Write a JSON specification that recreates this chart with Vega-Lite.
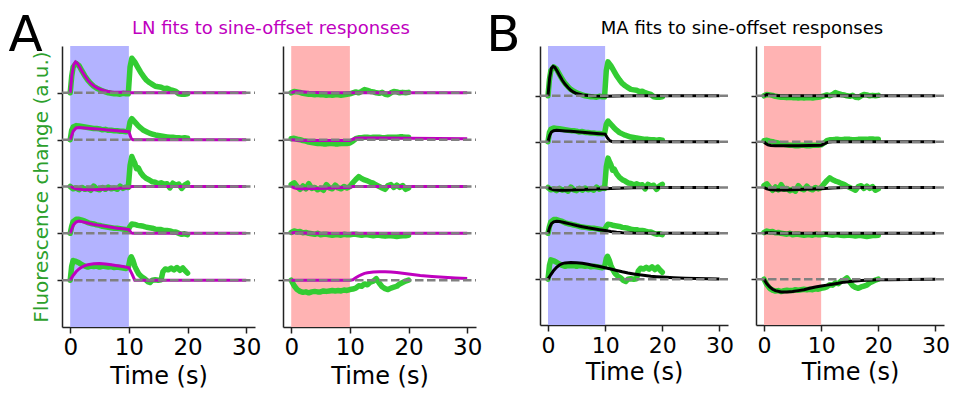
{
"$schema":"https://vega.github.io/schema/vega-lite/v6.json",
"background":"white",
"padding":{"left":8,"top":10,"right":4,"bottom":4},
"config":{"view":{"stroke":null},"font":"DejaVu Sans","axis":{"grid":false,"domainColor":"#222","tickColor":"#222","domainWidth":1.5,"tickWidth":1.5,"labelColor":"black","titleColor":"black","titleFontWeight":"normal"}},
"bounds":"flush",
"spacing":28,
"datasets":{
"base":[{"b":1},{"b":2},{"b":3},{"b":4},{"b":5}],
"gL":[
{"k":5,"t":0,"y":5},{"k":5,"t":0.25,"y":5.35},{"k":5,"t":0.5,"y":5.55},{"k":5,"t":1,"y":5.63},{"k":5,"t":1.5,"y":5.58},{"k":5,"t":2,"y":5.47},{"k":5,"t":2.5,"y":5.36},{"k":5,"t":3,"y":5.27},{"k":5,"t":3.5,"y":5.2},{"k":5,"t":4,"y":5.14},{"k":5,"t":4.5,"y":5.1},{"k":5,"t":5,"y":5.07},{"k":5,"t":5.5,"y":5.04},{"k":5,"t":6,"y":5.02},{"k":5,"t":6.5,"y":5.0},{"k":5,"t":7,"y":4.99},{"k":5,"t":7.5,"y":4.98},{"k":5,"t":8,"y":4.98},{"k":5,"t":8.5,"y":4.97},{"k":5,"t":9,"y":4.99},{"k":5,"t":9.5,"y":4.98},{"k":5,"t":9.9,"y":4.98},{"k":5,"t":10.2,"y":5.55},{"k":5,"t":10.5,"y":5.74},{"k":5,"t":11,"y":5.66},{"k":5,"t":11.5,"y":5.55},{"k":5,"t":12,"y":5.44},{"k":5,"t":12.5,"y":5.35},{"k":5,"t":13,"y":5.27},{"k":5,"t":13.5,"y":5.22},{"k":5,"t":14,"y":5.18},{"k":5,"t":14.5,"y":5.14},{"k":5,"t":15,"y":5.13},{"k":5,"t":15.5,"y":5.12},{"k":5,"t":16,"y":5.09},{"k":5,"t":16.5,"y":5.1},{"k":5,"t":17,"y":5.07},{"k":5,"t":17.5,"y":5.05},{"k":5,"t":18,"y":5.03},{"k":5,"t":18.5,"y":4.98},{"k":5,"t":19,"y":4.97},{"k":5,"t":19.5,"y":4.97},{"k":5,"t":20,"y":4.98},
{"k":4,"t":0,"y":4},{"k":4,"t":0.25,"y":4.2},{"k":4,"t":0.5,"y":4.27},{"k":4,"t":1,"y":4.3},{"k":4,"t":1.5,"y":4.29},{"k":4,"t":2,"y":4.28},{"k":4,"t":2.5,"y":4.27},{"k":4,"t":3,"y":4.26},{"k":4,"t":3.5,"y":4.25},{"k":4,"t":4,"y":4.24},{"k":4,"t":4.5,"y":4.24},{"k":4,"t":5,"y":4.23},{"k":4,"t":5.5,"y":4.21},{"k":4,"t":6,"y":4.22},{"k":4,"t":6.5,"y":4.2},{"k":4,"t":7,"y":4.2},{"k":4,"t":7.5,"y":4.19},{"k":4,"t":8,"y":4.19},{"k":4,"t":8.5,"y":4.18},{"k":4,"t":9,"y":4.18},{"k":4,"t":9.5,"y":4.17},{"k":4,"t":9.9,"y":4.18},{"k":4,"t":10.2,"y":4.38},{"k":4,"t":10.5,"y":4.45},{"k":4,"t":11,"y":4.38},{"k":4,"t":11.5,"y":4.31},{"k":4,"t":12,"y":4.25},{"k":4,"t":12.5,"y":4.2},{"k":4,"t":13,"y":4.17},{"k":4,"t":13.5,"y":4.14},{"k":4,"t":14,"y":4.12},{"k":4,"t":14.5,"y":4.1},{"k":4,"t":15,"y":4.09},{"k":4,"t":15.5,"y":4.08},{"k":4,"t":16,"y":4.07},{"k":4,"t":16.5,"y":4.06},{"k":4,"t":17,"y":4.05},{"k":4,"t":17.5,"y":4.05},{"k":4,"t":18,"y":4.04},{"k":4,"t":18.5,"y":4.04},{"k":4,"t":19,"y":4.03},{"k":4,"t":19.5,"y":4.04},{"k":4,"t":20,"y":4.03},
{"k":3,"t":0,"y":3.0},{"k":3,"t":0.5,"y":2.95},{"k":3,"t":1,"y":2.97},{"k":3,"t":1.5,"y":2.93},{"k":3,"t":2,"y":2.98},{"k":3,"t":2.5,"y":2.94},{"k":3,"t":3,"y":2.96},{"k":3,"t":3.5,"y":2.92},{"k":3,"t":4,"y":3.01},{"k":3,"t":4.5,"y":2.95},{"k":3,"t":5,"y":2.93},{"k":3,"t":5.5,"y":2.98},{"k":3,"t":6,"y":2.94},{"k":3,"t":6.5,"y":2.99},{"k":3,"t":7,"y":2.95},{"k":3,"t":7.5,"y":2.97},{"k":3,"t":8,"y":2.94},{"k":3,"t":8.5,"y":3.01},{"k":3,"t":9,"y":2.96},{"k":3,"t":9.5,"y":2.99},{"k":3,"t":9.9,"y":2.98},{"k":3,"t":10.2,"y":3.45},{"k":3,"t":10.5,"y":3.64},{"k":3,"t":10.8,"y":3.55},{"k":3,"t":11,"y":3.5},{"k":3,"t":11.3,"y":3.38},{"k":3,"t":11.6,"y":3.4},{"k":3,"t":12,"y":3.3},{"k":3,"t":12.5,"y":3.22},{"k":3,"t":13,"y":3.17},{"k":3,"t":13.5,"y":3.14},{"k":3,"t":14,"y":3.1},{"k":3,"t":14.5,"y":3.09},{"k":3,"t":15,"y":3.06},{"k":3,"t":15.5,"y":3.08},{"k":3,"t":16,"y":3.05},{"k":3,"t":16.5,"y":3.06},{"k":3,"t":17,"y":2.97},{"k":3,"t":17.5,"y":3.07},{"k":3,"t":18,"y":3.03},{"k":3,"t":18.5,"y":3.05},{"k":3,"t":19,"y":2.96},{"k":3,"t":19.5,"y":3.03},{"k":3,"t":20,"y":3.07},
{"k":2,"t":0,"y":2},{"k":2,"t":0.25,"y":2.15},{"k":2,"t":0.5,"y":2.25},{"k":2,"t":1,"y":2.3},{"k":2,"t":1.5,"y":2.3},{"k":2,"t":2,"y":2.28},{"k":2,"t":2.5,"y":2.26},{"k":2,"t":3,"y":2.23},{"k":2,"t":3.5,"y":2.21},{"k":2,"t":4,"y":2.2},{"k":2,"t":4.5,"y":2.18},{"k":2,"t":5,"y":2.17},{"k":2,"t":5.5,"y":2.15},{"k":2,"t":6,"y":2.14},{"k":2,"t":6.5,"y":2.13},{"k":2,"t":7,"y":2.12},{"k":2,"t":7.5,"y":2.11},{"k":2,"t":8,"y":2.11},{"k":2,"t":8.5,"y":2.1},{"k":2,"t":9,"y":2.09},{"k":2,"t":9.5,"y":2.08},{"k":2,"t":9.9,"y":2.08},{"k":2,"t":10.2,"y":2.15},{"k":2,"t":10.5,"y":2.2},{"k":2,"t":11,"y":2.19},{"k":2,"t":11.5,"y":2.17},{"k":2,"t":12,"y":2.16},{"k":2,"t":12.5,"y":2.15},{"k":2,"t":13,"y":2.13},{"k":2,"t":13.5,"y":2.12},{"k":2,"t":14,"y":2.11},{"k":2,"t":14.5,"y":2.09},{"k":2,"t":15,"y":2.08},{"k":2,"t":15.5,"y":2.08},{"k":2,"t":16,"y":2.06},{"k":2,"t":16.5,"y":2.06},{"k":2,"t":17,"y":2.05},{"k":2,"t":17.5,"y":2.03},{"k":2,"t":18,"y":2.03},{"k":2,"t":18.5,"y":2.0},{"k":2,"t":19,"y":1.98},{"k":2,"t":19.5,"y":1.99},{"k":2,"t":20,"y":1.97},
{"k":1,"t":0,"y":1},{"k":1,"t":0.25,"y":1.3},{"k":1,"t":0.5,"y":1.42},{"k":1,"t":1,"y":1.4},{"k":1,"t":1.5,"y":1.37},{"k":1,"t":2,"y":1.33},{"k":1,"t":2.5,"y":1.3},{"k":1,"t":3,"y":1.28},{"k":1,"t":3.5,"y":1.3},{"k":1,"t":4,"y":1.29},{"k":1,"t":4.5,"y":1.3},{"k":1,"t":5,"y":1.28},{"k":1,"t":5.5,"y":1.3},{"k":1,"t":6,"y":1.29},{"k":1,"t":6.5,"y":1.28},{"k":1,"t":7,"y":1.29},{"k":1,"t":7.5,"y":1.27},{"k":1,"t":8,"y":1.28},{"k":1,"t":8.5,"y":1.27},{"k":1,"t":9,"y":1.26},{"k":1,"t":9.5,"y":1.25},{"k":1,"t":9.9,"y":1.27},{"k":1,"t":10.2,"y":1.45},{"k":1,"t":10.4,"y":1.5},{"k":1,"t":10.7,"y":1.42},{"k":1,"t":11,"y":1.3},{"k":1,"t":11.3,"y":1.22},{"k":1,"t":11.7,"y":1.13},{"k":1,"t":12.2,"y":1.07},{"k":1,"t":12.7,"y":1.03},{"k":1,"t":13.2,"y":0.97},{"k":1,"t":13.6,"y":0.95},{"k":1,"t":14,"y":1.0},{"k":1,"t":14.5,"y":1.01},{"k":1,"t":15,"y":1.0},{"k":1,"t":15.5,"y":1.01},{"k":1,"t":15.8,"y":1.18},{"k":1,"t":16.2,"y":1.24},{"k":1,"t":16.7,"y":1.22},{"k":1,"t":17.2,"y":1.26},{"k":1,"t":17.7,"y":1.22},{"k":1,"t":18.2,"y":1.27},{"k":1,"t":18.7,"y":1.21},{"k":1,"t":19.2,"y":1.26},{"k":1,"t":19.6,"y":1.2},{"k":1,"t":20,"y":1.15}
],
"gR":[
{"k":5,"t":0,"y":5},{"k":5,"t":0.5,"y":5.03},{"k":5,"t":1,"y":5.02},{"k":5,"t":1.5,"y":5.01},{"k":5,"t":2,"y":4.99},{"k":5,"t":2.5,"y":4.98},{"k":5,"t":3,"y":4.97},{"k":5,"t":3.5,"y":4.97},{"k":5,"t":4,"y":4.96},{"k":5,"t":4.5,"y":4.97},{"k":5,"t":5,"y":4.96},{"k":5,"t":5.5,"y":4.96},{"k":5,"t":6,"y":4.95},{"k":5,"t":6.5,"y":4.96},{"k":5,"t":7,"y":4.95},{"k":5,"t":7.5,"y":4.96},{"k":5,"t":8,"y":4.96},{"k":5,"t":8.5,"y":4.95},{"k":5,"t":9,"y":4.96},{"k":5,"t":9.5,"y":4.97},{"k":5,"t":10,"y":4.98},{"k":5,"t":10.5,"y":5.0},{"k":5,"t":11,"y":5.02},{"k":5,"t":11.5,"y":5.0},{"k":5,"t":12,"y":5.03},{"k":5,"t":12.5,"y":5.07},{"k":5,"t":13,"y":5.05},{"k":5,"t":13.5,"y":5.03},{"k":5,"t":14,"y":5.02},{"k":5,"t":14.5,"y":5.0},{"k":5,"t":15,"y":4.99},{"k":5,"t":15.5,"y":5.01},{"k":5,"t":16,"y":4.97},{"k":5,"t":16.5,"y":4.96},{"k":5,"t":17,"y":5.0},{"k":5,"t":17.5,"y":5.03},{"k":5,"t":18,"y":5.02},{"k":5,"t":18.5,"y":5.0},{"k":5,"t":19,"y":5.01},{"k":5,"t":19.5,"y":5.0},{"k":5,"t":20,"y":5.01},
{"k":4,"t":0,"y":4.02},{"k":4,"t":0.5,"y":4.03},{"k":4,"t":1,"y":4.01},{"k":4,"t":1.5,"y":4.0},{"k":4,"t":2,"y":3.98},{"k":4,"t":2.5,"y":3.97},{"k":4,"t":3,"y":3.95},{"k":4,"t":3.5,"y":3.94},{"k":4,"t":4,"y":3.93},{"k":4,"t":4.5,"y":3.92},{"k":4,"t":5,"y":3.92},{"k":4,"t":5.5,"y":3.91},{"k":4,"t":6,"y":3.91},{"k":4,"t":6.5,"y":3.92},{"k":4,"t":7,"y":3.92},{"k":4,"t":7.5,"y":3.91},{"k":4,"t":8,"y":3.91},{"k":4,"t":8.5,"y":3.92},{"k":4,"t":9,"y":3.92},{"k":4,"t":9.5,"y":3.92},{"k":4,"t":10,"y":3.93},{"k":4,"t":10.5,"y":3.97},{"k":4,"t":11,"y":4.02},{"k":4,"t":11.5,"y":4.04},{"k":4,"t":12,"y":4.04},{"k":4,"t":12.5,"y":4.05},{"k":4,"t":13,"y":4.05},{"k":4,"t":13.5,"y":4.04},{"k":4,"t":14,"y":4.05},{"k":4,"t":14.5,"y":4.05},{"k":4,"t":15,"y":4.05},{"k":4,"t":15.5,"y":4.04},{"k":4,"t":16,"y":4.04},{"k":4,"t":16.5,"y":4.05},{"k":4,"t":17,"y":4.05},{"k":4,"t":17.5,"y":4.05},{"k":4,"t":18,"y":4.05},{"k":4,"t":18.5,"y":4.06},{"k":4,"t":19,"y":4.06},{"k":4,"t":19.5,"y":4.05},{"k":4,"t":20,"y":4.05},
{"k":3,"t":0,"y":3.04},{"k":3,"t":0.5,"y":3.08},{"k":3,"t":1,"y":3.0},{"k":3,"t":1.5,"y":2.94},{"k":3,"t":2,"y":3.01},{"k":3,"t":2.5,"y":2.95},{"k":3,"t":3,"y":3.06},{"k":3,"t":3.5,"y":2.96},{"k":3,"t":4,"y":2.98},{"k":3,"t":4.5,"y":2.93},{"k":3,"t":5,"y":2.96},{"k":3,"t":5.5,"y":2.92},{"k":3,"t":6,"y":3.04},{"k":3,"t":6.5,"y":2.97},{"k":3,"t":7,"y":2.95},{"k":3,"t":7.5,"y":3.03},{"k":3,"t":8,"y":2.97},{"k":3,"t":8.5,"y":2.95},{"k":3,"t":9,"y":3.0},{"k":3,"t":9.5,"y":2.97},{"k":3,"t":10,"y":3.0},{"k":3,"t":10.5,"y":3.08},{"k":3,"t":11,"y":3.15},{"k":3,"t":11.5,"y":3.21},{"k":3,"t":12,"y":3.17},{"k":3,"t":12.5,"y":3.14},{"k":3,"t":13,"y":3.12},{"k":3,"t":13.5,"y":3.09},{"k":3,"t":14,"y":3.07},{"k":3,"t":14.5,"y":3.03},{"k":3,"t":15,"y":3.0},{"k":3,"t":15.5,"y":2.97},{"k":3,"t":16,"y":2.94},{"k":3,"t":16.5,"y":3.02},{"k":3,"t":17,"y":3.04},{"k":3,"t":17.5,"y":2.98},{"k":3,"t":18,"y":3.03},{"k":3,"t":18.5,"y":2.98},{"k":3,"t":19,"y":3.02},{"k":3,"t":19.5,"y":2.94},{"k":3,"t":20,"y":2.97},
{"k":2,"t":0,"y":2.02},{"k":2,"t":0.5,"y":2.05},{"k":2,"t":1,"y":2.03},{"k":2,"t":1.5,"y":2.04},{"k":2,"t":2,"y":2.01},{"k":2,"t":2.5,"y":2.02},{"k":2,"t":3,"y":2.0},{"k":2,"t":3.5,"y":1.99},{"k":2,"t":4,"y":1.98},{"k":2,"t":4.5,"y":2.0},{"k":2,"t":5,"y":1.97},{"k":2,"t":5.5,"y":1.98},{"k":2,"t":6,"y":1.98},{"k":2,"t":6.5,"y":1.97},{"k":2,"t":7,"y":1.96},{"k":2,"t":7.5,"y":1.97},{"k":2,"t":8,"y":1.97},{"k":2,"t":8.5,"y":1.96},{"k":2,"t":9,"y":1.98},{"k":2,"t":9.5,"y":1.97},{"k":2,"t":10,"y":1.97},{"k":2,"t":10.5,"y":1.98},{"k":2,"t":11,"y":1.98},{"k":2,"t":11.5,"y":1.97},{"k":2,"t":12,"y":1.96},{"k":2,"t":12.5,"y":1.97},{"k":2,"t":13,"y":1.97},{"k":2,"t":13.5,"y":1.96},{"k":2,"t":14,"y":1.95},{"k":2,"t":14.5,"y":1.96},{"k":2,"t":15,"y":1.96},{"k":2,"t":15.5,"y":1.95},{"k":2,"t":16,"y":1.94},{"k":2,"t":16.5,"y":1.95},{"k":2,"t":17,"y":1.95},{"k":2,"t":17.5,"y":1.94},{"k":2,"t":18,"y":1.93},{"k":2,"t":18.5,"y":1.94},{"k":2,"t":19,"y":1.95},{"k":2,"t":19.5,"y":1.95},{"k":2,"t":20,"y":1.96},
{"k":1,"t":0,"y":1.0},{"k":1,"t":0.5,"y":0.88},{"k":1,"t":1,"y":0.8},{"k":1,"t":1.5,"y":0.76},{"k":1,"t":2,"y":0.74},{"k":1,"t":2.5,"y":0.75},{"k":1,"t":3,"y":0.73},{"k":1,"t":3.5,"y":0.75},{"k":1,"t":4,"y":0.76},{"k":1,"t":4.5,"y":0.75},{"k":1,"t":5,"y":0.75},{"k":1,"t":5.5,"y":0.77},{"k":1,"t":6,"y":0.76},{"k":1,"t":6.5,"y":0.77},{"k":1,"t":7,"y":0.78},{"k":1,"t":7.5,"y":0.77},{"k":1,"t":8,"y":0.78},{"k":1,"t":8.5,"y":0.77},{"k":1,"t":9,"y":0.79},{"k":1,"t":9.5,"y":0.78},{"k":1,"t":10,"y":0.8},{"k":1,"t":10.5,"y":0.81},{"k":1,"t":11,"y":0.83},{"k":1,"t":11.5,"y":0.88},{"k":1,"t":12,"y":0.87},{"k":1,"t":12.5,"y":0.92},{"k":1,"t":13,"y":0.9},{"k":1,"t":13.5,"y":0.96},{"k":1,"t":14,"y":0.98},{"k":1,"t":14.5,"y":1.03},{"k":1,"t":15,"y":0.94},{"k":1,"t":15.5,"y":0.86},{"k":1,"t":16,"y":0.82},{"k":1,"t":16.5,"y":0.8},{"k":1,"t":17,"y":0.83},{"k":1,"t":17.5,"y":0.85},{"k":1,"t":18,"y":0.87},{"k":1,"t":18.5,"y":0.92},{"k":1,"t":19,"y":0.95},{"k":1,"t":19.5,"y":0.98},{"k":1,"t":20,"y":1.0}
],
"fAL":[
{"k":5,"t":0,"y":5},{"k":5,"t":0.3,"y":5.4},{"k":5,"t":0.6,"y":5.6},{"k":5,"t":0.9,"y":5.66},{"k":5,"t":1.2,"y":5.63},{"k":5,"t":1.6,"y":5.55},{"k":5,"t":2,"y":5.46},{"k":5,"t":2.5,"y":5.36},{"k":5,"t":3,"y":5.27},{"k":5,"t":3.5,"y":5.2},{"k":5,"t":4,"y":5.15},{"k":5,"t":4.5,"y":5.11},{"k":5,"t":5,"y":5.08},{"k":5,"t":6,"y":5.04},{"k":5,"t":7,"y":5.02},{"k":5,"t":8,"y":5.015},{"k":5,"t":10,"y":5.015},{"k":5,"t":10.3,"y":5},{"k":5,"t":30,"y":5},
{"k":4,"t":0,"y":4},{"k":4,"t":0.5,"y":4.18},{"k":4,"t":1,"y":4.25},{"k":4,"t":1.5,"y":4.26},{"k":4,"t":2,"y":4.255},{"k":4,"t":3,"y":4.245},{"k":4,"t":4,"y":4.235},{"k":4,"t":5,"y":4.225},{"k":4,"t":6,"y":4.21},{"k":4,"t":7,"y":4.2},{"k":4,"t":8,"y":4.19},{"k":4,"t":9,"y":4.18},{"k":4,"t":10,"y":4.17},{"k":4,"t":10.4,"y":4.02},{"k":4,"t":10.7,"y":4},{"k":4,"t":30,"y":4},
{"k":3,"t":0,"y":3},{"k":3,"t":0.5,"y":2.97},{"k":3,"t":1,"y":2.95},{"k":3,"t":2,"y":2.935},{"k":3,"t":3,"y":2.93},{"k":3,"t":4,"y":2.93},{"k":3,"t":5,"y":2.935},{"k":3,"t":6,"y":2.94},{"k":3,"t":7,"y":2.95},{"k":3,"t":8,"y":2.96},{"k":3,"t":9,"y":2.97},{"k":3,"t":10,"y":2.98},{"k":3,"t":10.5,"y":3},{"k":3,"t":30,"y":3},
{"k":2,"t":0,"y":2},{"k":2,"t":0.5,"y":2.17},{"k":2,"t":1,"y":2.24},{"k":2,"t":1.5,"y":2.26},{"k":2,"t":2,"y":2.25},{"k":2,"t":3,"y":2.22},{"k":2,"t":4,"y":2.19},{"k":2,"t":5,"y":2.17},{"k":2,"t":6,"y":2.15},{"k":2,"t":7,"y":2.13},{"k":2,"t":8,"y":2.11},{"k":2,"t":9,"y":2.1},{"k":2,"t":10,"y":2.08},{"k":2,"t":10.4,"y":2.01},{"k":2,"t":10.7,"y":2},{"k":2,"t":30,"y":2},
{"k":1,"t":0,"y":1},{"k":1,"t":0.5,"y":1.1},{"k":1,"t":1,"y":1.18},{"k":1,"t":1.5,"y":1.24},{"k":1,"t":2,"y":1.28},{"k":1,"t":2.5,"y":1.31},{"k":1,"t":3,"y":1.33},{"k":1,"t":4,"y":1.35},{"k":1,"t":5,"y":1.355},{"k":1,"t":6,"y":1.345},{"k":1,"t":7,"y":1.33},{"k":1,"t":8,"y":1.31},{"k":1,"t":9,"y":1.29},{"k":1,"t":10,"y":1.265},{"k":1,"t":10.5,"y":1.14},{"k":1,"t":11,"y":1},{"k":1,"t":30,"y":1}
],
"fAR":[
{"k":5,"t":0,"y":5},{"k":5,"t":0.5,"y":5.025},{"k":5,"t":1,"y":5.03},{"k":5,"t":2,"y":5.02},{"k":5,"t":3,"y":5.01},{"k":5,"t":4,"y":5.005},{"k":5,"t":6,"y":5},{"k":5,"t":30,"y":5},
{"k":4,"t":0,"y":4},{"k":4,"t":1,"y":3.99},{"k":4,"t":3,"y":3.98},{"k":4,"t":10,"y":3.98},{"k":4,"t":10.5,"y":4.01},{"k":4,"t":11,"y":4.03},{"k":4,"t":12,"y":4.035},{"k":4,"t":15,"y":4.035},{"k":4,"t":20,"y":4.03},{"k":4,"t":25,"y":4.025},{"k":4,"t":30,"y":4.02},
{"k":3,"t":0,"y":3},{"k":3,"t":0.5,"y":2.97},{"k":3,"t":1,"y":2.955},{"k":3,"t":2,"y":2.95},{"k":3,"t":4,"y":2.955},{"k":3,"t":6,"y":2.965},{"k":3,"t":8,"y":2.975},{"k":3,"t":10,"y":2.985},{"k":3,"t":10.5,"y":3},{"k":3,"t":30,"y":3},
{"k":2,"t":0,"y":2},{"k":2,"t":0.5,"y":2.015},{"k":2,"t":1,"y":2.01},{"k":2,"t":2,"y":2.005},{"k":2,"t":4,"y":2},{"k":2,"t":30,"y":2},
{"k":1,"t":0,"y":1},{"k":1,"t":10,"y":1},{"k":1,"t":10.5,"y":1.01},{"k":1,"t":11,"y":1.05},{"k":1,"t":11.5,"y":1.09},{"k":1,"t":12,"y":1.12},{"k":1,"t":12.5,"y":1.145},{"k":1,"t":13,"y":1.16},{"k":1,"t":14,"y":1.175},{"k":1,"t":15,"y":1.18},{"k":1,"t":16,"y":1.18},{"k":1,"t":17,"y":1.175},{"k":1,"t":18,"y":1.165},{"k":1,"t":20,"y":1.13},{"k":1,"t":22,"y":1.1},{"k":1,"t":24,"y":1.08},{"k":1,"t":26,"y":1.06},{"k":1,"t":28,"y":1.045},{"k":1,"t":30,"y":1.035}
],
"fBL":[
{"k":5,"t":0,"y":5},{"k":5,"t":0.3,"y":5.4},{"k":5,"t":0.6,"y":5.6},{"k":5,"t":0.9,"y":5.64},{"k":5,"t":1.2,"y":5.62},{"k":5,"t":1.6,"y":5.54},{"k":5,"t":2,"y":5.45},{"k":5,"t":2.5,"y":5.34},{"k":5,"t":3,"y":5.25},{"k":5,"t":3.5,"y":5.18},{"k":5,"t":4,"y":5.12},{"k":5,"t":4.5,"y":5.08},{"k":5,"t":5,"y":5.05},{"k":5,"t":6,"y":5.02},{"k":5,"t":7,"y":5.005},{"k":5,"t":8,"y":4.995},{"k":5,"t":10,"y":4.99},{"k":5,"t":12,"y":4.995},{"k":5,"t":15,"y":5},{"k":5,"t":30,"y":5},
{"k":4,"t":0,"y":4},{"k":4,"t":0.3,"y":4.14},{"k":4,"t":0.6,"y":4.21},{"k":4,"t":1,"y":4.24},{"k":4,"t":1.5,"y":4.25},{"k":4,"t":2,"y":4.245},{"k":4,"t":3,"y":4.235},{"k":4,"t":4,"y":4.225},{"k":4,"t":5,"y":4.215},{"k":4,"t":6,"y":4.205},{"k":4,"t":7,"y":4.195},{"k":4,"t":8,"y":4.185},{"k":4,"t":9,"y":4.175},{"k":4,"t":10,"y":4.165},{"k":4,"t":10.4,"y":4.08},{"k":4,"t":10.8,"y":4.02},{"k":4,"t":11.3,"y":4},{"k":4,"t":30,"y":4},
{"k":3,"t":0,"y":3},{"k":3,"t":0.5,"y":2.97},{"k":3,"t":1,"y":2.95},{"k":3,"t":2,"y":2.94},{"k":3,"t":3,"y":2.94},{"k":3,"t":4,"y":2.945},{"k":3,"t":6,"y":2.955},{"k":3,"t":8,"y":2.965},{"k":3,"t":10,"y":2.975},{"k":3,"t":12,"y":2.985},{"k":3,"t":15,"y":2.995},{"k":3,"t":20,"y":3},{"k":3,"t":30,"y":3},
{"k":2,"t":0,"y":2},{"k":2,"t":0.3,"y":2.13},{"k":2,"t":0.6,"y":2.21},{"k":2,"t":1,"y":2.25},{"k":2,"t":1.5,"y":2.265},{"k":2,"t":2,"y":2.26},{"k":2,"t":3,"y":2.23},{"k":2,"t":4,"y":2.2},{"k":2,"t":5,"y":2.17},{"k":2,"t":6,"y":2.145},{"k":2,"t":7,"y":2.12},{"k":2,"t":8,"y":2.1},{"k":2,"t":9,"y":2.08},{"k":2,"t":10,"y":2.06},{"k":2,"t":11,"y":2.04},{"k":2,"t":12,"y":2.025},{"k":2,"t":13,"y":2.015},{"k":2,"t":15,"y":2.005},{"k":2,"t":30,"y":2},
{"k":1,"t":0,"y":1},{"k":1,"t":0.5,"y":1.1},{"k":1,"t":1,"y":1.19},{"k":1,"t":1.5,"y":1.26},{"k":1,"t":2,"y":1.31},{"k":1,"t":2.5,"y":1.34},{"k":1,"t":3,"y":1.355},{"k":1,"t":4,"y":1.365},{"k":1,"t":5,"y":1.36},{"k":1,"t":6,"y":1.345},{"k":1,"t":7,"y":1.325},{"k":1,"t":8,"y":1.3},{"k":1,"t":9,"y":1.275},{"k":1,"t":10,"y":1.25},{"k":1,"t":11,"y":1.22},{"k":1,"t":12,"y":1.19},{"k":1,"t":13,"y":1.16},{"k":1,"t":14,"y":1.135},{"k":1,"t":15,"y":1.115},{"k":1,"t":16,"y":1.095},{"k":1,"t":17,"y":1.08},{"k":1,"t":18,"y":1.065},{"k":1,"t":19,"y":1.055},{"k":1,"t":20,"y":1.045},{"k":1,"t":22,"y":1.03},{"k":1,"t":24,"y":1.02},{"k":1,"t":26,"y":1.012},{"k":1,"t":28,"y":1.007},{"k":1,"t":30,"y":1.004}
],
"fBR":[
{"k":5,"t":0,"y":5},{"k":5,"t":0.5,"y":5.03},{"k":5,"t":1,"y":5.02},{"k":5,"t":2,"y":5.005},{"k":5,"t":3,"y":5},{"k":5,"t":30,"y":5},
{"k":4,"t":0,"y":4},{"k":4,"t":0.3,"y":3.96},{"k":4,"t":0.7,"y":3.93},{"k":4,"t":1.2,"y":3.915},{"k":4,"t":2,"y":3.91},{"k":4,"t":4,"y":3.91},{"k":4,"t":6,"y":3.912},{"k":4,"t":8,"y":3.915},{"k":4,"t":10,"y":3.92},{"k":4,"t":10.5,"y":3.95},{"k":4,"t":11,"y":3.98},{"k":4,"t":11.5,"y":3.995},{"k":4,"t":12,"y":4},{"k":4,"t":30,"y":4},
{"k":3,"t":0,"y":3},{"k":3,"t":0.5,"y":2.97},{"k":3,"t":1,"y":2.955},{"k":3,"t":2,"y":2.945},{"k":3,"t":4,"y":2.945},{"k":3,"t":6,"y":2.955},{"k":3,"t":8,"y":2.965},{"k":3,"t":10,"y":2.975},{"k":3,"t":12,"y":2.99},{"k":3,"t":14,"y":3},{"k":3,"t":30,"y":3},
{"k":2,"t":0,"y":2},{"k":2,"t":0.5,"y":2.015},{"k":2,"t":1,"y":2.01},{"k":2,"t":2,"y":2.005},{"k":2,"t":3,"y":2},{"k":2,"t":30,"y":2},
{"k":1,"t":0,"y":1},{"k":1,"t":0.5,"y":0.9},{"k":1,"t":1,"y":0.83},{"k":1,"t":1.5,"y":0.78},{"k":1,"t":2,"y":0.75},{"k":1,"t":3,"y":0.72},{"k":1,"t":4,"y":0.72},{"k":1,"t":5,"y":0.73},{"k":1,"t":6,"y":0.75},{"k":1,"t":7,"y":0.77},{"k":1,"t":8,"y":0.8},{"k":1,"t":9,"y":0.83},{"k":1,"t":10,"y":0.85},{"k":1,"t":11,"y":0.87},{"k":1,"t":12,"y":0.89},{"k":1,"t":13,"y":0.91},{"k":1,"t":14,"y":0.935},{"k":1,"t":15,"y":0.95},{"k":1,"t":16,"y":0.96},{"k":1,"t":17,"y":0.97},{"k":1,"t":18,"y":0.975},{"k":1,"t":20,"y":0.985},{"k":1,"t":22,"y":0.987},{"k":1,"t":25,"y":0.993},{"k":1,"t":30,"y":0.997}
]
},
"hconcat":[
{"width":193,"height":281,"layer":[
 {"data":{"values":[{}]},"mark":{"type":"rect","color":"#b3b3ff"},"encoding":{
  "x":{"datum":0,"type":"quantitative","scale":{"domain":[-1.4,31.5],"nice":false,"zero":false},"axis":{"values":[0,10,20,30],"format":"d","title":"Time (s)","labelFontSize":23,"titleFontSize":24,"tickSize":6,"labelPadding":3,"titlePadding":5}},
  "x2":{"datum":10},
  "y":{"datum":0,"type":"quantitative","scale":{"domain":[0,6],"nice":false,"zero":false},"axis":{"values":[1,2,3,4,5],"labels":false,"tickSize":5,"title":"Fluorescence change (a.u.)","titleColor":"#2ca02c","titleFontSize":20,"titlePadding":5}},
  "y2":{"datum":6}}},
 {"data":{"name":"gL"},"mark":{"type":"line","color":"#33cc33","strokeWidth":5.5,"strokeCap":"round","strokeJoin":"round"},"encoding":{"x":{"field":"t","type":"quantitative"},"y":{"field":"y","type":"quantitative"},"detail":{"field":"k"}}},
 {"data":{"name":"fAL"},"mark":{"type":"line","color":"#bf00bf","strokeWidth":3},"encoding":{"x":{"field":"t","type":"quantitative"},"y":{"field":"y","type":"quantitative"},"detail":{"field":"k"}}},
 {"data":{"name":"base"},"mark":{"type":"rule","color":"#808080","strokeWidth":2.5,"strokeDash":[8.5,3.5]},"encoding":{"x":{"datum":-1.4,"type":"quantitative"},"x2":{"datum":31.5},"y":{"field":"b","type":"quantitative"}}},
 {"data":{"values":[{}]},"mark":{"type":"text","text":"A","fontSize":50,"align":"center","baseline":"alphabetic","color":"black"},"encoding":{"x":{"datum":-7.6,"type":"quantitative"},"y":{"datum":5.893,"type":"quantitative"}}},
 {"data":{"values":[{}]},"mark":{"type":"text","text":"LN fits to sine-offset responses","fontSize":18,"align":"center","baseline":"alphabetic","color":"#bf00bf"},"encoding":{"x":{"datum":34.22,"type":"quantitative"},"y":{"datum":6.246,"type":"quantitative"}}}
]},
{"width":193,"height":281,"layer":[
 {"data":{"values":[{}]},"mark":{"type":"rect","color":"#ffb3b3"},"encoding":{
  "x":{"datum":0,"type":"quantitative","scale":{"domain":[-1.4,31.5],"nice":false,"zero":false},"axis":{"values":[0,10,20,30],"format":"d","title":"Time (s)","labelFontSize":23,"titleFontSize":24,"tickSize":6,"labelPadding":3,"titlePadding":5}},
  "x2":{"datum":10},
  "y":{"datum":0,"type":"quantitative","scale":{"domain":[0,6],"nice":false,"zero":false},"axis":{"values":[1,2,3,4,5],"labels":false,"tickSize":5,"title":null}},
  "y2":{"datum":6}}},
 {"data":{"name":"gR"},"mark":{"type":"line","color":"#33cc33","strokeWidth":5.5,"strokeCap":"round","strokeJoin":"round"},"encoding":{"x":{"field":"t","type":"quantitative"},"y":{"field":"y","type":"quantitative"},"detail":{"field":"k"}}},
 {"data":{"name":"fAR"},"mark":{"type":"line","color":"#bf00bf","strokeWidth":3},"encoding":{"x":{"field":"t","type":"quantitative"},"y":{"field":"y","type":"quantitative"},"detail":{"field":"k"}}},
 {"data":{"name":"base"},"mark":{"type":"rule","color":"#808080","strokeWidth":2.5,"strokeDash":[8.5,3.5]},"encoding":{"x":{"datum":-1.4,"type":"quantitative"},"x2":{"datum":31.5},"y":{"field":"b","type":"quantitative"}}}
]},
{"width":8,"height":281,"data":{"values":[{}]},"mark":{"type":"text","text":""},"encoding":{}},
{"width":188,"height":279,"layer":[
 {"data":{"values":[{}]},"mark":{"type":"rect","color":"#b3b3ff"},"encoding":{
  "x":{"datum":0,"type":"quantitative","scale":{"domain":[-1.4,31.5],"nice":false,"zero":false},"axis":{"values":[0,10,20,30],"format":"d","title":"Time (s)","labelFontSize":22,"titleFontSize":24,"tickSize":6,"labelPadding":4,"titlePadding":4}},
  "x2":{"datum":10},
  "y":{"datum":0,"type":"quantitative","scale":{"domain":[0,6.087],"nice":false,"zero":false},"axis":{"values":[1,2,3,4,5],"labels":false,"tickSize":5,"title":null}},
  "y2":{"datum":6.087}}},
 {"data":{"name":"gL"},"mark":{"type":"line","color":"#33cc33","strokeWidth":5.5,"strokeCap":"round","strokeJoin":"round"},"encoding":{"x":{"field":"t","type":"quantitative"},"y":{"field":"y","type":"quantitative"},"detail":{"field":"k"}}},
 {"data":{"name":"fBL"},"mark":{"type":"line","color":"black","strokeWidth":3},"encoding":{"x":{"field":"t","type":"quantitative"},"y":{"field":"y","type":"quantitative"},"detail":{"field":"k"}}},
 {"data":{"name":"base"},"mark":{"type":"rule","color":"#808080","strokeWidth":2.5,"strokeDash":[8.5,3.5]},"encoding":{"x":{"datum":-1.4,"type":"quantitative"},"x2":{"datum":31.5},"y":{"field":"b","type":"quantitative"}}},
 {"data":{"values":[{}]},"mark":{"type":"text","text":"B","fontSize":50,"align":"center","baseline":"alphabetic","color":"black"},"encoding":{"x":{"datum":-7.82,"type":"quantitative"},"y":{"datum":5.978,"type":"quantitative"}}},
 {"data":{"values":[{}]},"mark":{"type":"text","text":"MA fits to sine-offset responses","fontSize":18,"align":"center","baseline":"alphabetic","color":"black"},"encoding":{"x":{"datum":33.95,"type":"quantitative"},"y":{"datum":6.341,"type":"quantitative"}}}
]},
{"width":188,"height":279,"layer":[
 {"data":{"values":[{}]},"mark":{"type":"rect","color":"#ffb3b3"},"encoding":{
  "x":{"datum":0,"type":"quantitative","scale":{"domain":[-1.4,31.5],"nice":false,"zero":false},"axis":{"values":[0,10,20,30],"format":"d","title":"Time (s)","labelFontSize":22,"titleFontSize":24,"tickSize":6,"labelPadding":4,"titlePadding":4}},
  "x2":{"datum":10},
  "y":{"datum":0,"type":"quantitative","scale":{"domain":[0,6.087],"nice":false,"zero":false},"axis":{"values":[1,2,3,4,5],"labels":false,"tickSize":5,"title":null}},
  "y2":{"datum":6.087}}},
 {"data":{"name":"gR"},"mark":{"type":"line","color":"#33cc33","strokeWidth":5.5,"strokeCap":"round","strokeJoin":"round"},"encoding":{"x":{"field":"t","type":"quantitative"},"y":{"field":"y","type":"quantitative"},"detail":{"field":"k"}}},
 {"data":{"name":"fBR"},"mark":{"type":"line","color":"black","strokeWidth":3},"encoding":{"x":{"field":"t","type":"quantitative"},"y":{"field":"y","type":"quantitative"},"detail":{"field":"k"}}},
 {"data":{"name":"base"},"mark":{"type":"rule","color":"#808080","strokeWidth":2.5,"strokeDash":[8.5,3.5]},"encoding":{"x":{"datum":-1.4,"type":"quantitative"},"x2":{"datum":31.5},"y":{"field":"b","type":"quantitative"}}}
]}
]
}
